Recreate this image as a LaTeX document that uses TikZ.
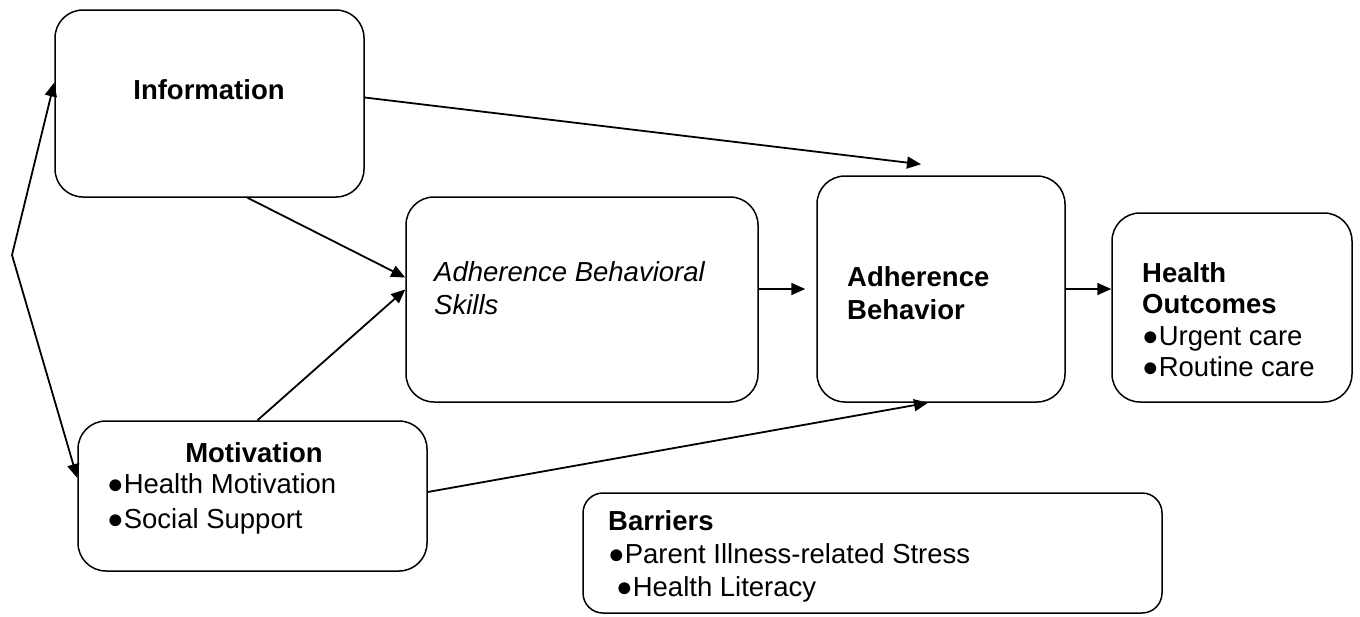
\documentclass[tikz,border=0pt]{standalone}
\usepackage{fontspec}
\setmainfont{Liberation Sans}
\usetikzlibrary{arrows.meta}
\begin{document}
\begin{tikzpicture}[x=1pt,y=-1pt,
  box/.style={draw,line width=1.5pt,rounded corners=28pt,inner sep=0pt},
  label/.style={inner sep=0pt,align=left,font=\fontsize{27.5}{33}\selectfont},
  link/.style={line width=1.8pt,-{Triangle[length=14pt,width=12pt]}}]
\useasboundingbox (0,0) rectangle (1360,616);

% boxes
\node[box,minimum width=309pt,minimum height=187pt] (info) at (209.5,103.5) {};
\node[box,minimum width=352pt,minimum height=205pt] (skills) at (582,299.5) {};
\node[box,minimum width=248pt,minimum height=226pt] (behav) at (941,289) {};
\node[box,minimum width=240pt,minimum height=189pt] (health) at (1232,307.5) {};
\node[box,minimum width=349pt,minimum height=150pt] (motiv) at (252.5,496) {};
\node[box,rounded corners=20pt,minimum width=579pt,minimum height=120pt] (barr) at (872.5,553) {};

% texts
\node[label,font=\fontsize{27.5}{33}\selectfont\bfseries] (infotext) at (209,90) {Information};
\node[label,anchor=west,font=\fontsize{27.5}{33}\selectfont\itshape] (skilltext) at (434,288) {Adherence Behavioral\\Skills};
\node[label,anchor=west,font=\fontsize{27.5}{33}\selectfont\bfseries] (behavtext) at (847,293) {Adherence\\Behavior};
\node[label,anchor=west,font=\fontsize{27.5}{31.5}\selectfont] (healthtext) at (1142,319.5) {\textbf{Health}\\\textbf{Outcomes}\\●Urgent care\\●Routine care};
\node[label,font=\fontsize{27.5}{33}\selectfont\bfseries] (motivtitle) at (254,453) {Motivation};
\node[label,anchor=west] (motivtext) at (107,503.5) {●Health Motivation\\[2pt]●Social Support};
\node[label,anchor=west] (barrtext) at (608,556) {\textbf{Barriers}\\●Parent Illness-related Stress\\\hspace{8pt}●Health Literacy};

% arrows
\coordinate (fork) at (12,255);
\draw[link] (fork) -- ([yshift=21pt]info.west);
\draw[link] (fork) -- ([yshift=18pt]motiv.west);
\draw[link] ([xshift=38pt]info.south) -- ([yshift=22pt]skills.west);
\draw[link] ([xshift=5pt]motiv.north) -- ([yshift=10pt]skills.west);
\draw[link] ([yshift=6pt]info.east) -- ([xshift=-20pt,yshift=11pt]behav.north);
\draw[link] ([yshift=4pt]motiv.east) -- ([xshift=-13pt]behav.south);
\draw[link] (skills.east |- behav.west) -- ([xshift=-11pt]behav.west);
\draw[link] (behav.east) -- (behav.east -| health.west);
\end{tikzpicture}
\end{document}
